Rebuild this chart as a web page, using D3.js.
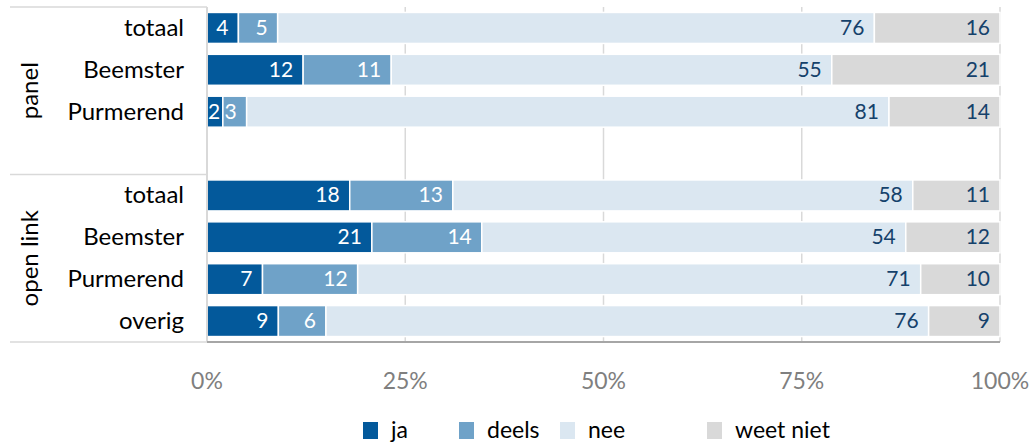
<!DOCTYPE html>
<html>
<head>
<meta charset="utf-8">
<script src="https://cdn.jsdelivr.net/npm/d3@7"></script>
<style>
  body { margin: 0; background: #fff; font-family: Lato, "Open Sans", sans-serif; }
</style>
</head>
<body>
<div id="chart-area"></div>
<script>
// answers per group/row, in percent (as printed on the bars)
let groups = ["panel", "open link"];
let rows = ["panel|totaal", "panel|Beemster", "panel|Purmerend", "panel|",
            "open link|totaal", "open link|Beemster", "open link|Purmerend", "open link|overig"];
let keys = ["ja", "deels", "nee", "weet niet"];
let ja    = [4, 12, 2, 18, 21, 7, 9];
let deels = [5, 11, 3, 13, 14, 12, 6];
let nee   = [76, 55, 81, 58, 54, 71, 76];
let weet  = [16, 21, 14, 11, 12, 10, 9];
let dataRows = ["panel|totaal", "panel|Beemster", "panel|Purmerend",
                "open link|totaal", "open link|Beemster", "open link|Purmerend", "open link|overig"];
let ticks = [0, 0.25, 0.5, 0.75, 1];

let colors = ["#03599b", "#6fa2c8", "#dbe7f1", "#d9d9d9"];
let labelColors = ["#ffffff", "#ffffff", "#15416b", "#15416b"];

let W = 1035, H = 443;
let margin = {top: 7, left: 207, right: 35, bottom: 101};

let data = dataRows.map((r, i) => ({row: r, "ja": ja[i], "deels": deels[i], "nee": nee[i], "weet niet": weet[i]}));

let svg = d3.select("#chart-area").append("svg")
  .attr("width", W).attr("height", H);

let x = d3.scaleLinear().domain([0, 1]).range([margin.left, W - margin.right]);
let y = d3.scaleBand().domain(rows).range([margin.top, H - margin.bottom]).paddingInner(0.26).paddingOuter(0.13);
let step = y.step();

let stack = d3.stack().keys(keys).offset(d3.stackOffsetExpand);
let series = stack(data);

// gridlines
svg.append("g").selectAll("line").data(ticks.slice(1)).join("line")
  .attr("x1", d => x(d)).attr("x2", d => x(d))
  .attr("y1", margin.top).attr("y2", H - margin.bottom)
  .attr("stroke", "#d9d9d9").attr("stroke-width", 1.5);

// group separators on the left
let seps = [margin.top, margin.top + 4 * step, H - margin.bottom];
svg.append("g").selectAll("line").data(seps).join("line")
  .attr("x1", 10).attr("x2", margin.left)
  .attr("y1", d => d).attr("y2", d => d)
  .attr("stroke", "#d9d9d9").attr("stroke-width", 1.5);

// bars
let layer = svg.append("g").selectAll("g").data(series).join("g")
  .attr("fill", (d, i) => colors[i]);

layer.selectAll("rect").data(d => d).join("rect")
  .attr("x", d => x(d[0]))
  .attr("width", d => x(d[1]) - x(d[0]))
  .attr("y", d => y(d.data.row))
  .attr("height", y.bandwidth())
  .attr("stroke", "#fff").attr("stroke-width", 1.5);

layer.selectAll("text").data(d => d.map(v => Object.assign({key: d.key}, v))).join("text")
  .attr("y", d => y(d.data.row) + y.bandwidth() / 2 + 7)
  .attr("text-anchor", "end")
  .attr("font-size", 21)
  .attr("fill", d => labelColors[keys.indexOf(d.key)])
  .text(d => d.data[d.key])
  .attr("x", function(d) {
    // inside end, but keep small labels inside their segment
    let w = this.getComputedTextLength();
    return Math.max(x(d[1]) - 10, x(d[0]) + w + 1);
  });

// axes lines
svg.append("line")
  .attr("x1", x(0)).attr("x2", x(0))
  .attr("y1", margin.top).attr("y2", H - margin.bottom)
  .attr("stroke", "#d9d9d9").attr("stroke-width", 2);
svg.append("line")
  .attr("x1", x(0)).attr("x2", x(1))
  .attr("y1", H - margin.bottom).attr("y2", H - margin.bottom)
  .attr("stroke", "#a6a6a6").attr("stroke-width", 2);

// x tick labels
svg.append("g").selectAll("text").data(ticks).join("text")
  .attr("x", d => x(d)).attr("y", 389)
  .attr("text-anchor", "middle")
  .attr("font-size", 23).attr("fill", "#7f7f7f")
  .text(d3.format(".0%"));

// row labels
svg.append("g").selectAll("text").data(rows).join("text")
  .attr("x", 184)
  .attr("y", d => y(d) + y.bandwidth() / 2 + 8)
  .attr("text-anchor", "end")
  .attr("font-size", 24).attr("fill", "#000")
  .text(d => d.split("|")[1]);

// group labels
let groupCenter = [margin.top + 2 * step, margin.top + 6 * step];
svg.append("g").selectAll("text").data(groups).join("text")
  .attr("transform", (d, i) => "translate(38," + groupCenter[i] + ") rotate(-90)")
  .attr("text-anchor", "middle")
  .attr("font-size", 24).attr("fill", "#000")
  .text(d => d);

// legend
let legendX = [363, 459, 560, 707];
let legend = svg.append("g").selectAll("g").data(keys).join("g")
  .attr("transform", (d, i) => "translate(" + legendX[i] + ",422)");
legend.append("rect").attr("width", 15).attr("height", 17)
  .attr("fill", (d, i) => colors[i]);
legend.append("text").attr("x", 28).attr("y", 16)
  .attr("font-size", 23).attr("fill", "#000")
  .text(d => d);
</script>
</body>
</html>
